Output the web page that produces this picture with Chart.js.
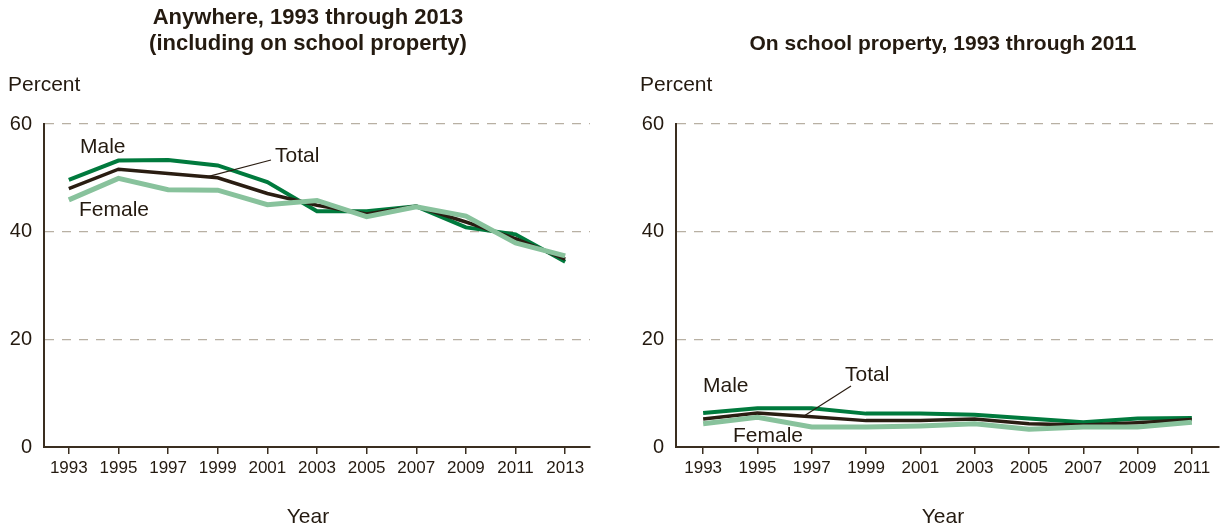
<!DOCTYPE html>
<html>
<head>
<meta charset="utf-8">
<script src="https://cdn.jsdelivr.net/npm/chart.js@4.4.1/dist/chart.umd.min.js"></script>
<style>
  body { margin: 0; background: #fff; }
  #wrap { position: relative; width: 1222px; height: 532px; }
  canvas { position: absolute; top: 0; }
  #anywhere { left: 0; }
  #school { left: 615px; }
</style>
</head>
<body>
<div id="wrap">
  <canvas id="anywhere" width="611" height="532"></canvas>
  <canvas id="school" width="607" height="532"></canvas>
</div>
<script>
// survey years
const yearsAnywhere = ['1993', '1995', '1997', '1999', '2001', '2003', '2005', '2007', '2009', '2011', '2013'];
const yearsSchool = ['1993', '1995', '1997', '1999', '2001', '2003', '2005', '2007', '2009', '2011'];

// percent, anywhere (including on school property)
const anywhereMale = [49.6, 53.2, 53.3, 52.3, 49.2, 43.8, 43.8, 44.7, 40.8, 39.5, 34.4];
const anywhereTotal = [48.0, 51.6, 50.8, 50.0, 47.1, 44.9, 43.3, 44.7, 41.8, 38.7, 34.9];
const anywhereFemale = [45.9, 49.9, 47.8, 47.7, 45.0, 45.8, 42.8, 44.6, 42.9, 37.9, 35.5];

// percent, on school property
const schoolMale = [6.3, 7.2, 7.2, 6.2, 6.2, 6.0, 5.3, 4.6, 5.3, 5.4];
const schoolTotal = [5.2, 6.3, 5.6, 4.9, 4.9, 5.2, 4.3, 4.1, 4.5, 5.1];
const schoolFemale = [4.3, 5.5, 3.7, 3.7, 3.9, 4.3, 3.3, 3.7, 3.7, 4.6];

const yTicks = [0, 20, 40, 60];

const TEXT = '#241a10';
const AXIS = '#3a2e20';
const GRID = '#b8b0a3';
const MALE = '#007a3d';
const TOTAL = '#2a1d12';
const FEMALE = '#88c29c';
const FONT = 'Arial, "Liberation Sans", sans-serif';

// titles, axis words, series names and the leader to the Total line
const decor = {
  id: 'decor',
  afterDraw(chart, args, o) {
    const ctx = chart.ctx;
    ctx.save();
    ctx.fillStyle = TEXT;
    ctx.textBaseline = 'middle';

    ctx.font = 'bold ' + o.titleSize + 'px ' + FONT;
    ctx.textAlign = 'center';
    o.title.forEach(t => ctx.fillText(t.text, o.titleX, t.y));

    ctx.font = '21px ' + FONT;
    ctx.textAlign = 'left';
    ctx.fillText('Percent', o.percentX, 85);
    ctx.textAlign = 'center';
    ctx.fillText('Year', o.titleX, 517);

    ctx.textAlign = 'left';
    o.names.forEach(n => ctx.fillText(n.text, n.x, n.y));

    // leader from "Total" down to a spot on the total line
    const pts = chart.getDatasetMeta(1).data;
    const i = Math.floor(o.leader.at);
    const f = o.leader.at - i;
    const ex = pts[i].x + (pts[i + 1].x - pts[i].x) * f;
    const ey = pts[i].y + (pts[i + 1].y - pts[i].y) * f;
    ctx.strokeStyle = TOTAL;
    ctx.lineWidth = 1.2;
    ctx.beginPath();
    ctx.moveTo(o.leader.x, o.leader.y);
    ctx.lineTo(ex, ey);
    ctx.stroke();
    ctx.restore();
  }
};

function panel(id, labels, male, total, female, padRight, yWidth, deco) {
  return new Chart(document.getElementById(id), {
    type: 'line',
    data: {
      labels: labels,
      datasets: [
        { label: 'Male', data: male, borderColor: MALE, borderWidth: 4, order: 2 },
        { label: 'Total', data: total, borderColor: TOTAL, borderWidth: 3.5, order: 1 },
        { label: 'Female', data: female, borderColor: FEMALE, borderWidth: 5, order: 0 }
      ]
    },
    options: {
      responsive: false,
      animation: false,
      events: [],
      elements: { point: { radius: 0 }, line: { tension: 0, fill: false } },
      layout: { padding: { top: 124, right: padRight, bottom: 0, left: 0 } },
      plugins: {
        legend: { display: false },
        tooltip: { enabled: false },
        decor: deco
      },
      scales: {
        x: {
          offset: true,
          grid: { drawOnChartArea: false, drawTicks: true, tickLength: 7, color: AXIS, lineWidth: 1.5 },
          border: { color: AXIS, width: 2 },
          ticks: { color: TEXT, font: { family: FONT, size: 17 }, padding: 4, maxRotation: 0, autoSkip: false },
          afterFit: s => { s.height = 85; }
        },
        y: {
          min: 0,
          max: 60,
          afterBuildTicks: s => { s.ticks = yTicks.map(v => ({ value: v })); },
          grid: {
            drawTicks: false,
            lineWidth: 1.3,
            color: c => (c.tick && c.tick.value === 0 ? 'rgba(0,0,0,0)' : GRID)
          },
          border: { color: AXIS, width: 2, dash: [9, 8] },
          ticks: { color: TEXT, font: { family: FONT, size: 20 }, padding: 12 },
          afterFit: s => { s.width = yWidth; }
        }
      }
    },
    plugins: [decor]
  });
}

panel('anywhere', yearsAnywhere, anywhereMale, anywhereTotal, anywhereFemale, 21, 44, {
  titleX: 308,
  titleSize: 22,
  percentX: 8,
  title: [
    { text: 'Anywhere, 1993 through 2013', y: 18 },
    { text: '(including on school property)', y: 44 }
  ],
  names: [
    { text: 'Male', x: 80, y: 147 },
    { text: 'Total', x: 275, y: 156 },
    { text: 'Female', x: 79, y: 210 }
  ],
  leader: { x: 271, y: 160, at: 2.78 }
});

panel('school', yearsSchool, schoolMale, schoolTotal, schoolFemale, 3, 61, {
  titleX: 328,
  titleSize: 21,
  percentX: 25,
  title: [
    { text: 'On school property, 1993 through 2011', y: 44 }
  ],
  names: [
    { text: 'Male', x: 88, y: 386 },
    { text: 'Total', x: 230, y: 375 },
    { text: 'Female', x: 118, y: 436 }
  ],
  leader: { x: 236, y: 386, at: 1.85 }
});
</script>
</body>
</html>
